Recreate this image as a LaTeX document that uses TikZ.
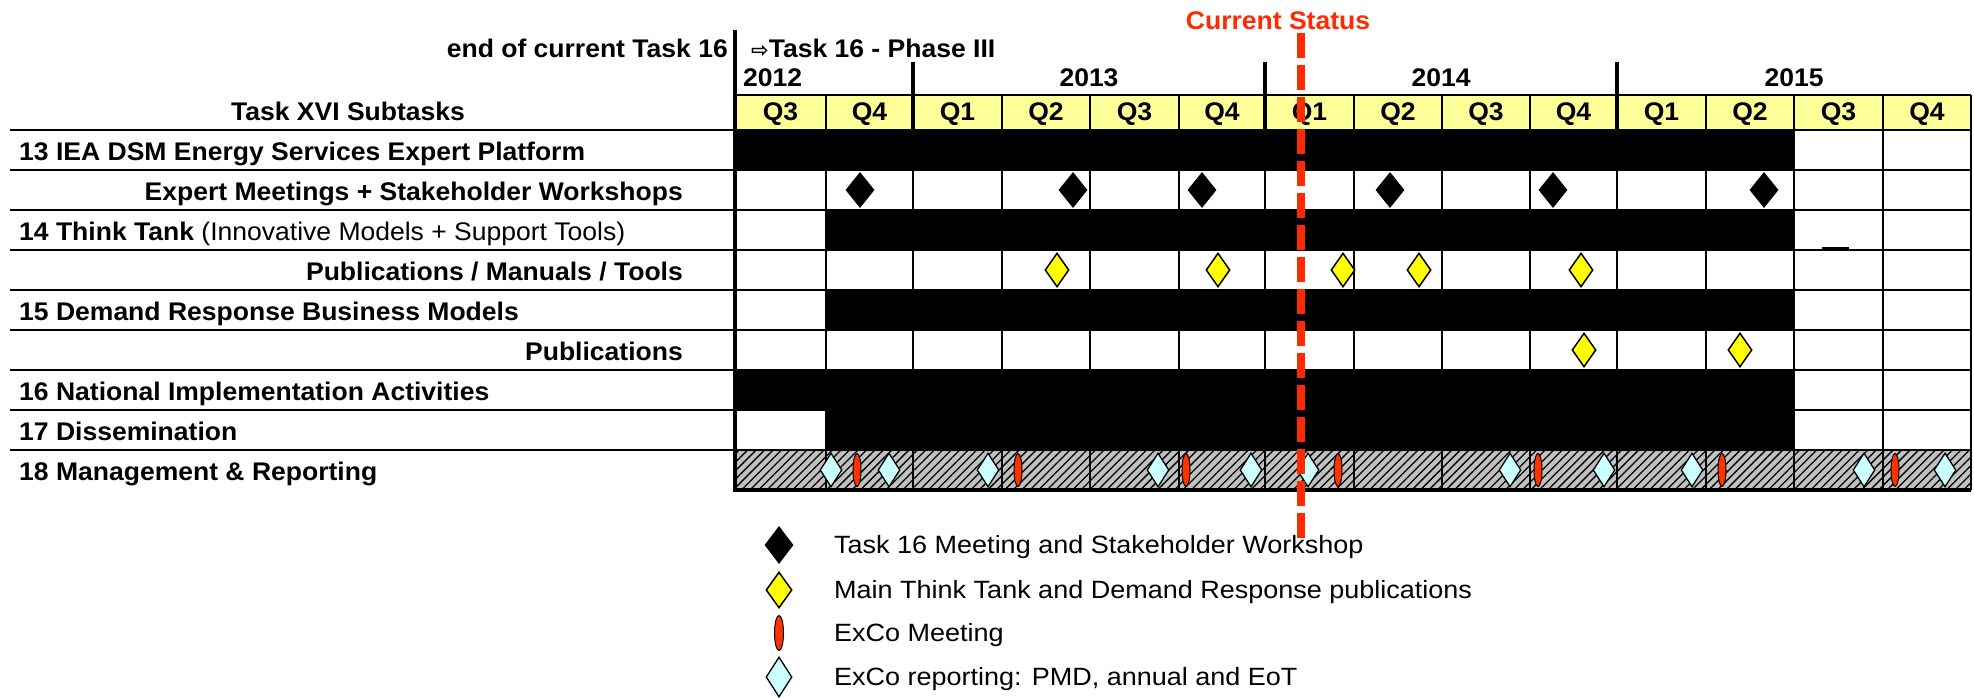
\documentclass[tikz,border=0pt]{standalone}
\usepackage{fontspec}
\setmainfont{Liberation Sans}[FakeStretch=1.04]
\newfontfamily\lgdfont{Liberation Sans}[FakeStretch=1.08]
\newfontfamily\arrowfont{DejaVu Sans}
\usetikzlibrary{shapes.geometric,patterns.meta}
\definecolor{qyellow}{HTML}{FFFF99}
\definecolor{dyellow}{HTML}{FFFF00}
\definecolor{lblue}{HTML}{CCFFFF}
\definecolor{stred}{HTML}{FF2A00}
\definecolor{exred}{HTML}{FF3300}
\definecolor{hatchgray}{HTML}{C0C0C0}
\begin{document}
\begin{tikzpicture}[x=1pt,y=-1pt,
  lbl/.style={font=\fontsize{25.5}{28}\selectfont\bfseries, inner sep=0pt},
  lgd/.style={font=\lgdfont\fontsize{25}{28}\selectfont, inner sep=0pt, anchor=base west},
  gridline/.style={line width=2pt, black},
  labelline/.style={line width=2.4pt, black},
  thickline/.style={line width=3.4pt, black},
  bar/.style={fill=black},
  meet/.style={diamond, fill=black, draw=none, inner sep=0pt, minimum width=29pt, minimum height=36pt},
  pub/.style={diamond, fill=dyellow, draw=black, line width=1.5pt, inner sep=0pt, minimum width=24pt, minimum height=34pt},
  rep/.style={diamond, fill=lblue, draw=black, line width=1.3pt, inner sep=0pt, minimum width=22pt, minimum height=34pt},
  exco/.style={ellipse, fill=exred, draw=black, line width=1pt, inner sep=0pt, minimum width=8pt, minimum height=33pt},
  status/.style={draw=stred, line width=8pt, dash pattern=on 25pt off 7pt},
]
\useasboundingbox (0,0) rectangle (1974,697);
\fill[white] (0,0) rectangle (1974,697);

% header fill and hatched row
\fill[qyellow] (735,95) rectangle (1971,130);
\fill[hatchgray] (735,450) rectangle (1971,490);
\fill[pattern={Lines[angle=45,distance=6pt,line width=1.3pt]}, pattern color=black] (735,450) rectangle (1971,490);

% black bars
\fill[bar] (735,130) rectangle (1794,170);
\fill[bar] (826,210) rectangle (1794,250);
\fill[bar] (826,290) rectangle (1794,330);
\fill[bar] (735,370) rectangle (1794,410);
\fill[bar] (826,410) rectangle (1794,450);

% table grid
\foreach \yy in {95,130,170,210,250,290,330,370,410,450}
  \draw[gridline] (735,\yy) -- (1971,\yy);
\foreach \xx in {826,1002,1090,1179,1354,1442,1530,1706,1794,1883,1971}
  \draw[gridline] (\xx,95) -- (\xx,490);
\foreach \xx in {913,1265,1617}
  \draw[gridline, line width=2.6pt] (\xx,130) -- (\xx,490);
\draw[thickline] (735,490) -- (1971,490);
\draw[gridline] (1822,248) -- (1849,248);

% label-area lines
\foreach \yy in {130,170,210,250,290,330,370,410,450}
  \draw[labelline] (10,\yy) -- (735,\yy);

% thick separators
\draw[thickline] (735,30) -- (735,492);
\foreach \xx in {913,1265,1617}
  \draw[thickline] (\xx,62) -- (\xx,130);

% header texts
\node[lbl, anchor=base east] (endt) at (728,57) {end of current Task 16};
\node[lbl, anchor=base west] (phase) at (751,57) {{\arrowfont\fontsize{21}{26}\selectfont ⇨}Task 16 - Phase III};
\node[lbl, anchor=base west] (y12) at (743,86) {2012};
\node[lbl, anchor=base] (y13) at (1089,86) {2013};
\node[lbl, anchor=base] (y14) at (1441,86) {2014};
\node[lbl, anchor=base] (y15) at (1794,86) {2015};
\node[lbl, anchor=base] (subt) at (348,120) {Task XVI Subtasks};
\node[lbl, anchor=base, text=stred] (cur) at (1278,29) {Current Status};

\foreach \a/\b/\q [count=\i] in {735/826/Q3,826/913/Q4,913/1002/Q1,1002/1090/Q2,1090/1179/Q3,1179/1265/Q4,1265/1354/Q1,1354/1442/Q2,1442/1530/Q3,1530/1617/Q4,1617/1706/Q1,1706/1794/Q2,1794/1883/Q3,1883/1971/Q4}
  \node[lbl, anchor=base] (q\i) at ({(\a+\b)/2},120) {\q};

% row labels
\node[lbl, anchor=base west] (r1) at (19,160) {13 IEA DSM Energy Services Expert Platform};
\node[lbl, anchor=base east] (r2) at (683,200) {Expert Meetings + Stakeholder Workshops};
\node[lbl, anchor=base west] (r3) at (19,240) {14 Think Tank {\mdseries (Innovative Models + Support Tools)}};
\node[lbl, anchor=base east] (r4) at (683,280) {Publications / Manuals / Tools};
\node[lbl, anchor=base west] (r5) at (19,320) {15 Demand Response Business Models};
\node[lbl, anchor=base east] (r6) at (683,360) {Publications};
\node[lbl, anchor=base west] (r7) at (19,400) {16 National Implementation Activities};
\node[lbl, anchor=base west] (r8) at (19,440) {17 Dissemination};
\node[lbl, anchor=base west] (r9) at (19,480) {18 Management \& Reporting};

% markers
\foreach \xx [count=\i] in {860,1073,1202,1390,1553,1764}
  \node[meet] (m\i) at (\xx,190) {};
\foreach \xx [count=\i] in {1057,1218,1343,1419,1581}
  \node[pub] (p\i) at (\xx,270) {};
\foreach \xx [count=\i] in {1584,1740}
  \node[pub] (pp\i) at (\xx,350) {};
\foreach \xx [count=\i] in {831,889,988,1158,1251,1308,1510,1604,1692,1864,1945}
  \node[rep] (rp\i) at (\xx,470) {};
\foreach \xx [count=\i] in {857,1018,1186,1338,1538,1722,1895}
  \node[exco] (ex\i) at (\xx,470) {};

% current status line
\coordinate (dtop) at (1301,33);
\coordinate (dbot) at (1301,544);
\draw[status] (dtop) -- (dbot);

% legend
\node[meet, minimum width=29pt, minimum height=38pt] (lg1) at (779,545) {};
\node[pub, minimum width=26pt, minimum height=36pt] (lg2) at (779,590) {};
\node[exco, minimum width=9pt, minimum height=35pt] (lg3) at (779,633) {};
\node[rep, minimum width=26pt, minimum height=40pt] (lg4) at (779,677) {};
\node[lgd] (lt1) at (834,553) {Task 16 Meeting and Stakeholder Workshop};
\node[lgd] (lt2) at (834,598) {Main Think Tank and Demand Response publications};
\node[lgd] (lt3) at (834,641) {ExCo Meeting};
\node[lgd] (lt4) at (834,685) {ExCo reporting: PMD, annual and EoT};
\end{tikzpicture}
\end{document}
